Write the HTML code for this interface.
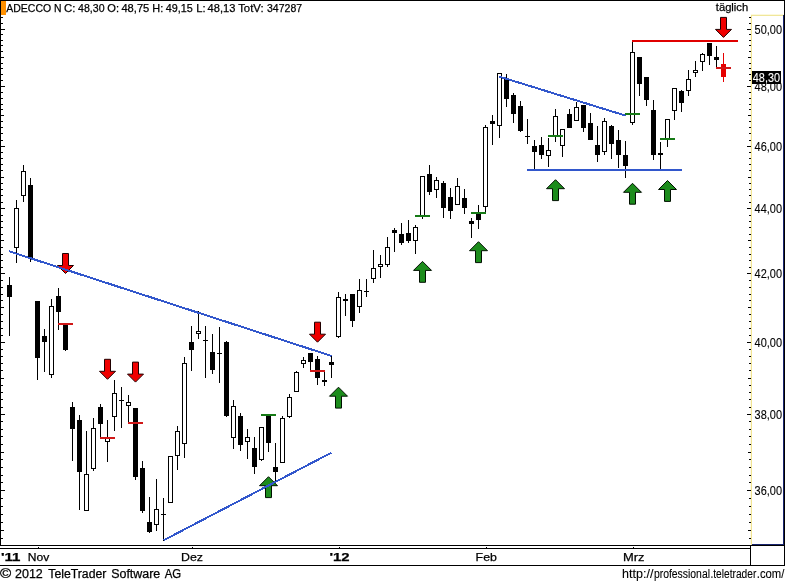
<!DOCTYPE html>
<html><head><meta charset="utf-8"><title>ADECCO N</title>
<style>
html,body{margin:0;padding:0;background:#fff;}
body{width:785px;height:583px;overflow:hidden;position:relative;font-family:"Liberation Sans",sans-serif;}
svg{position:absolute;left:0;top:0;display:block}
svg text{font-family:"Liberation Sans",sans-serif;stroke:#000;stroke-width:0.25px;}
svg text.w{stroke:#fff;stroke-width:0.1px}
svg text.pl{stroke-width:0.1px}
</style></head><body>
<svg width="785" height="583" viewBox="0 0 785 583">
<rect width="785" height="583" fill="#fff"/>

<g shape-rendering="crispEdges">
<rect x="0" y="0" width="785" height="1" fill="#000"/>
<rect x="784" y="0" width="1" height="566" fill="#000"/>
<rect x="0" y="0" width="1" height="546" fill="#000"/>
<rect x="1" y="1" width="5" height="14" fill="#ff9000"/>
<rect x="751" y="14" width="33" height="1" fill="#fcf9dc"/>
<rect x="751" y="15" width="33" height="1" fill="#f0e69a"/>
<rect x="750" y="16" width="1" height="528" fill="#fdf9e6"/>
<rect x="751" y="15" width="1" height="530" fill="#f1e493"/>
<rect x="783" y="15" width="1" height="530" fill="#18246e"/>
<rect x="752" y="544" width="32" height="1" fill="#18246e"/>
<rect x="0" y="545" width="785" height="1" fill="#000"/>
<rect x="0" y="548" width="750" height="1" fill="#000"/>
<rect x="750" y="545" width="1" height="21" fill="#000"/>
<rect x="0" y="565" width="785" height="1" fill="#000"/>
<rect x="0" y="538" width="3" height="1" fill="#000"/>
<rect x="749" y="538" width="2" height="1" fill="#000"/>
<rect x="0" y="530" width="4" height="1" fill="#000"/>
<rect x="748" y="530" width="3" height="1" fill="#000"/>
<rect x="0" y="522" width="3" height="1" fill="#000"/>
<rect x="749" y="522" width="2" height="1" fill="#000"/>
<rect x="0" y="514" width="3" height="1" fill="#000"/>
<rect x="749" y="514" width="2" height="1" fill="#000"/>
<rect x="0" y="506" width="3" height="1" fill="#000"/>
<rect x="749" y="506" width="2" height="1" fill="#000"/>
<rect x="0" y="498" width="3" height="1" fill="#000"/>
<rect x="749" y="498" width="2" height="1" fill="#000"/>
<rect x="0" y="490" width="5" height="1" fill="#000"/>
<rect x="747" y="490" width="4" height="1" fill="#000"/>
<rect x="0" y="482" width="3" height="1" fill="#000"/>
<rect x="749" y="482" width="2" height="1" fill="#000"/>
<rect x="0" y="475" width="3" height="1" fill="#000"/>
<rect x="749" y="475" width="2" height="1" fill="#000"/>
<rect x="0" y="467" width="3" height="1" fill="#000"/>
<rect x="749" y="467" width="2" height="1" fill="#000"/>
<rect x="0" y="459" width="3" height="1" fill="#000"/>
<rect x="749" y="459" width="2" height="1" fill="#000"/>
<rect x="0" y="452" width="4" height="1" fill="#000"/>
<rect x="748" y="452" width="3" height="1" fill="#000"/>
<rect x="0" y="444" width="3" height="1" fill="#000"/>
<rect x="749" y="444" width="2" height="1" fill="#000"/>
<rect x="0" y="436" width="3" height="1" fill="#000"/>
<rect x="749" y="436" width="2" height="1" fill="#000"/>
<rect x="0" y="429" width="3" height="1" fill="#000"/>
<rect x="749" y="429" width="2" height="1" fill="#000"/>
<rect x="0" y="421" width="3" height="1" fill="#000"/>
<rect x="749" y="421" width="2" height="1" fill="#000"/>
<rect x="0" y="414" width="5" height="1" fill="#000"/>
<rect x="747" y="414" width="4" height="1" fill="#000"/>
<rect x="0" y="407" width="3" height="1" fill="#000"/>
<rect x="749" y="407" width="2" height="1" fill="#000"/>
<rect x="0" y="399" width="3" height="1" fill="#000"/>
<rect x="749" y="399" width="2" height="1" fill="#000"/>
<rect x="0" y="392" width="3" height="1" fill="#000"/>
<rect x="749" y="392" width="2" height="1" fill="#000"/>
<rect x="0" y="385" width="3" height="1" fill="#000"/>
<rect x="749" y="385" width="2" height="1" fill="#000"/>
<rect x="0" y="378" width="4" height="1" fill="#000"/>
<rect x="748" y="378" width="3" height="1" fill="#000"/>
<rect x="0" y="370" width="3" height="1" fill="#000"/>
<rect x="749" y="370" width="2" height="1" fill="#000"/>
<rect x="0" y="363" width="3" height="1" fill="#000"/>
<rect x="749" y="363" width="2" height="1" fill="#000"/>
<rect x="0" y="356" width="3" height="1" fill="#000"/>
<rect x="749" y="356" width="2" height="1" fill="#000"/>
<rect x="0" y="349" width="3" height="1" fill="#000"/>
<rect x="749" y="349" width="2" height="1" fill="#000"/>
<rect x="0" y="342" width="5" height="1" fill="#000"/>
<rect x="747" y="342" width="4" height="1" fill="#000"/>
<rect x="0" y="335" width="3" height="1" fill="#000"/>
<rect x="749" y="335" width="2" height="1" fill="#000"/>
<rect x="0" y="328" width="3" height="1" fill="#000"/>
<rect x="749" y="328" width="2" height="1" fill="#000"/>
<rect x="0" y="321" width="3" height="1" fill="#000"/>
<rect x="749" y="321" width="2" height="1" fill="#000"/>
<rect x="0" y="314" width="3" height="1" fill="#000"/>
<rect x="749" y="314" width="2" height="1" fill="#000"/>
<rect x="0" y="307" width="4" height="1" fill="#000"/>
<rect x="748" y="307" width="3" height="1" fill="#000"/>
<rect x="0" y="300" width="3" height="1" fill="#000"/>
<rect x="749" y="300" width="2" height="1" fill="#000"/>
<rect x="0" y="294" width="3" height="1" fill="#000"/>
<rect x="749" y="294" width="2" height="1" fill="#000"/>
<rect x="0" y="287" width="3" height="1" fill="#000"/>
<rect x="749" y="287" width="2" height="1" fill="#000"/>
<rect x="0" y="280" width="3" height="1" fill="#000"/>
<rect x="749" y="280" width="2" height="1" fill="#000"/>
<rect x="0" y="273" width="5" height="1" fill="#000"/>
<rect x="747" y="273" width="4" height="1" fill="#000"/>
<rect x="0" y="267" width="3" height="1" fill="#000"/>
<rect x="749" y="267" width="2" height="1" fill="#000"/>
<rect x="0" y="260" width="3" height="1" fill="#000"/>
<rect x="749" y="260" width="2" height="1" fill="#000"/>
<rect x="0" y="254" width="3" height="1" fill="#000"/>
<rect x="749" y="254" width="2" height="1" fill="#000"/>
<rect x="0" y="247" width="3" height="1" fill="#000"/>
<rect x="749" y="247" width="2" height="1" fill="#000"/>
<rect x="0" y="240" width="4" height="1" fill="#000"/>
<rect x="748" y="240" width="3" height="1" fill="#000"/>
<rect x="0" y="234" width="3" height="1" fill="#000"/>
<rect x="749" y="234" width="2" height="1" fill="#000"/>
<rect x="0" y="227" width="3" height="1" fill="#000"/>
<rect x="749" y="227" width="2" height="1" fill="#000"/>
<rect x="0" y="221" width="3" height="1" fill="#000"/>
<rect x="749" y="221" width="2" height="1" fill="#000"/>
<rect x="0" y="215" width="3" height="1" fill="#000"/>
<rect x="749" y="215" width="2" height="1" fill="#000"/>
<rect x="0" y="208" width="5" height="1" fill="#000"/>
<rect x="747" y="208" width="4" height="1" fill="#000"/>
<rect x="0" y="202" width="3" height="1" fill="#000"/>
<rect x="749" y="202" width="2" height="1" fill="#000"/>
<rect x="0" y="195" width="3" height="1" fill="#000"/>
<rect x="749" y="195" width="2" height="1" fill="#000"/>
<rect x="0" y="189" width="3" height="1" fill="#000"/>
<rect x="749" y="189" width="2" height="1" fill="#000"/>
<rect x="0" y="183" width="3" height="1" fill="#000"/>
<rect x="749" y="183" width="2" height="1" fill="#000"/>
<rect x="0" y="177" width="4" height="1" fill="#000"/>
<rect x="748" y="177" width="3" height="1" fill="#000"/>
<rect x="0" y="170" width="3" height="1" fill="#000"/>
<rect x="749" y="170" width="2" height="1" fill="#000"/>
<rect x="0" y="164" width="3" height="1" fill="#000"/>
<rect x="749" y="164" width="2" height="1" fill="#000"/>
<rect x="0" y="158" width="3" height="1" fill="#000"/>
<rect x="749" y="158" width="2" height="1" fill="#000"/>
<rect x="0" y="152" width="3" height="1" fill="#000"/>
<rect x="749" y="152" width="2" height="1" fill="#000"/>
<rect x="0" y="146" width="5" height="1" fill="#000"/>
<rect x="747" y="146" width="4" height="1" fill="#000"/>
<rect x="0" y="140" width="3" height="1" fill="#000"/>
<rect x="749" y="140" width="2" height="1" fill="#000"/>
<rect x="0" y="133" width="3" height="1" fill="#000"/>
<rect x="749" y="133" width="2" height="1" fill="#000"/>
<rect x="0" y="127" width="3" height="1" fill="#000"/>
<rect x="749" y="127" width="2" height="1" fill="#000"/>
<rect x="0" y="121" width="3" height="1" fill="#000"/>
<rect x="749" y="121" width="2" height="1" fill="#000"/>
<rect x="0" y="115" width="4" height="1" fill="#000"/>
<rect x="748" y="115" width="3" height="1" fill="#000"/>
<rect x="0" y="109" width="3" height="1" fill="#000"/>
<rect x="749" y="109" width="2" height="1" fill="#000"/>
<rect x="0" y="104" width="3" height="1" fill="#000"/>
<rect x="749" y="104" width="2" height="1" fill="#000"/>
<rect x="0" y="98" width="3" height="1" fill="#000"/>
<rect x="749" y="98" width="2" height="1" fill="#000"/>
<rect x="0" y="92" width="3" height="1" fill="#000"/>
<rect x="749" y="92" width="2" height="1" fill="#000"/>
<rect x="0" y="86" width="5" height="1" fill="#000"/>
<rect x="747" y="86" width="4" height="1" fill="#000"/>
<rect x="0" y="80" width="3" height="1" fill="#000"/>
<rect x="749" y="80" width="2" height="1" fill="#000"/>
<rect x="0" y="74" width="3" height="1" fill="#000"/>
<rect x="749" y="74" width="2" height="1" fill="#000"/>
<rect x="0" y="68" width="3" height="1" fill="#000"/>
<rect x="749" y="68" width="2" height="1" fill="#000"/>
<rect x="0" y="63" width="3" height="1" fill="#000"/>
<rect x="749" y="63" width="2" height="1" fill="#000"/>
<rect x="0" y="57" width="4" height="1" fill="#000"/>
<rect x="748" y="57" width="3" height="1" fill="#000"/>
<rect x="0" y="51" width="3" height="1" fill="#000"/>
<rect x="749" y="51" width="2" height="1" fill="#000"/>
<rect x="0" y="45" width="3" height="1" fill="#000"/>
<rect x="749" y="45" width="2" height="1" fill="#000"/>
<rect x="0" y="40" width="3" height="1" fill="#000"/>
<rect x="749" y="40" width="2" height="1" fill="#000"/>
<rect x="0" y="34" width="3" height="1" fill="#000"/>
<rect x="749" y="34" width="2" height="1" fill="#000"/>
<rect x="0" y="29" width="5" height="1" fill="#000"/>
<rect x="747" y="29" width="4" height="1" fill="#000"/>
<rect x="0" y="23" width="3" height="1" fill="#000"/>
<rect x="749" y="23" width="2" height="1" fill="#000"/>
<rect x="0" y="17" width="3" height="1" fill="#000"/>
<rect x="749" y="17" width="2" height="1" fill="#000"/>
<rect x="38" y="547" width="1" height="1" fill="#000"/>
<rect x="192" y="547" width="1" height="1" fill="#000"/>
<rect x="339" y="547" width="1" height="1" fill="#000"/>
<rect x="486" y="547" width="1" height="1" fill="#000"/>
<rect x="633" y="547" width="1" height="1" fill="#000"/>
</g>
<polygon points="62.5,253.5 68.5,253.5 68.5,265.5 73.5,265.5 65.5,273.5 57.5,265.5 62.5,265.5" fill="#f00000" stroke="#200000" stroke-width="1" stroke-linejoin="miter"/>
<polygon points="104.5,359.3 110.5,359.3 110.5,371.3 115.5,371.3 107.5,379.3 99.5,371.3 104.5,371.3" fill="#f00000" stroke="#200000" stroke-width="1" stroke-linejoin="miter"/>
<polygon points="132.5,362.1 138.5,362.1 138.5,374.1 143.5,374.1 135.5,382.1 127.5,374.1 132.5,374.1" fill="#f00000" stroke="#200000" stroke-width="1" stroke-linejoin="miter"/>
<polygon points="314.5,322.2 320.5,322.2 320.5,334.2 325.5,334.2 317.5,342.2 309.5,334.2 314.5,334.2" fill="#f00000" stroke="#200000" stroke-width="1" stroke-linejoin="miter"/>
<polygon points="720.5,17.4 726.5,17.4 726.5,29.4 731.5,29.4 723.5,37.4 715.5,29.4 720.5,29.4" fill="#f00000" stroke="#200000" stroke-width="1" stroke-linejoin="miter"/>
<polygon points="268.5,476.7 277.5,485.7 271.5,485.7 271.5,497.6 265.5,497.6 265.5,485.7 259.5,485.7" fill="#1c8c1c" stroke="#001000" stroke-width="1" stroke-linejoin="miter"/>
<polygon points="338.5,387.2 347.5,396.2 341.5,396.2 341.5,408.1 335.5,408.1 335.5,396.2 329.5,396.2" fill="#1c8c1c" stroke="#001000" stroke-width="1" stroke-linejoin="miter"/>
<polygon points="422.5,261.4 431.5,270.4 425.5,270.4 425.5,282.3 419.5,282.3 419.5,270.4 413.5,270.4" fill="#1c8c1c" stroke="#001000" stroke-width="1" stroke-linejoin="miter"/>
<polygon points="478.5,241.7 487.5,250.7 481.5,250.7 481.5,262.6 475.5,262.6 475.5,250.7 469.5,250.7" fill="#1c8c1c" stroke="#001000" stroke-width="1" stroke-linejoin="miter"/>
<polygon points="555.5,179.7 564.5,188.7 558.5,188.7 558.5,200.6 552.5,200.6 552.5,188.7 546.5,188.7" fill="#1c8c1c" stroke="#001000" stroke-width="1" stroke-linejoin="miter"/>
<polygon points="632.5,183.3 641.5,192.3 635.5,192.3 635.5,204.2 629.5,204.2 629.5,192.3 623.5,192.3" fill="#1c8c1c" stroke="#001000" stroke-width="1" stroke-linejoin="miter"/>
<polygon points="667.5,180.5 676.5,189.5 670.5,189.5 670.5,201.4 664.5,201.4 664.5,189.5 658.5,189.5" fill="#1c8c1c" stroke="#001000" stroke-width="1" stroke-linejoin="miter"/>
<g shape-rendering="crispEdges">
<rect x="9" y="277" width="1" height="59" fill="#000"/>
<rect x="7" y="285" width="5" height="12" fill="#000"/>
<rect x="16" y="200" width="1" height="63" fill="#000"/>
<rect x="14.5" y="208.5" width="4" height="39" fill="#fff" stroke="#000" stroke-width="1"/>
<rect x="23" y="165" width="1" height="37" fill="#000"/>
<rect x="21.5" y="171.5" width="4" height="24" fill="#fff" stroke="#000" stroke-width="1"/>
<rect x="30" y="178" width="1" height="84" fill="#000"/>
<rect x="28" y="185" width="5" height="73" fill="#000"/>
<rect x="37" y="301" width="1" height="79" fill="#000"/>
<rect x="35" y="301" width="5" height="57" fill="#000"/>
<rect x="44" y="329" width="1" height="43" fill="#000"/>
<rect x="42" y="336" width="5" height="6" fill="#000"/>
<rect x="51" y="299" width="1" height="79" fill="#000"/>
<rect x="49.5" y="306.5" width="4" height="68" fill="#fff" stroke="#000" stroke-width="1"/>
<rect x="58" y="288" width="1" height="42" fill="#000"/>
<rect x="56" y="296" width="5" height="16" fill="#000"/>
<rect x="65" y="325" width="1" height="26" fill="#000"/>
<rect x="63" y="325" width="5" height="25" fill="#000"/>
<rect x="72" y="402" width="1" height="59" fill="#000"/>
<rect x="70" y="407" width="5" height="22" fill="#000"/>
<rect x="79" y="415" width="1" height="95" fill="#000"/>
<rect x="77" y="420" width="5" height="52" fill="#000"/>
<rect x="86" y="431" width="1" height="80" fill="#000"/>
<rect x="84.5" y="474.5" width="4" height="36" fill="#fff" stroke="#000" stroke-width="1"/>
<rect x="93" y="418" width="1" height="53" fill="#000"/>
<rect x="91.5" y="428.5" width="4" height="40" fill="#fff" stroke="#000" stroke-width="1"/>
<rect x="100" y="404" width="1" height="34" fill="#000"/>
<rect x="98" y="407" width="5" height="17" fill="#000"/>
<rect x="107" y="420" width="1" height="42" fill="#000"/>
<rect x="105.5" y="438.5" width="4" height="3" fill="#fff" stroke="#000" stroke-width="1"/>
<rect x="114" y="380" width="1" height="51" fill="#000"/>
<rect x="112.5" y="393.5" width="4" height="23" fill="#fff" stroke="#000" stroke-width="1"/>
<rect x="121" y="387" width="1" height="41" fill="#000"/>
<rect x="119" y="400" width="5" height="1" fill="#000"/>
<rect x="128" y="395" width="1" height="28" fill="#000"/>
<rect x="126.5" y="402.5" width="4" height="3" fill="#fff" stroke="#000" stroke-width="1"/>
<rect x="135" y="408" width="1" height="72" fill="#000"/>
<rect x="133" y="408" width="5" height="69" fill="#000"/>
<rect x="142" y="461" width="1" height="52" fill="#000"/>
<rect x="140" y="468" width="5" height="43" fill="#000"/>
<rect x="149" y="497" width="1" height="36" fill="#000"/>
<rect x="147" y="522" width="5" height="10" fill="#000"/>
<rect x="156" y="479" width="1" height="52" fill="#000"/>
<rect x="154.5" y="509.5" width="4" height="15" fill="#fff" stroke="#000" stroke-width="1"/>
<rect x="163" y="498" width="1" height="43" fill="#000"/>
<rect x="161" y="514" width="5" height="1" fill="#000"/>
<rect x="170" y="456" width="1" height="47" fill="#000"/>
<rect x="168.5" y="456.5" width="4" height="46" fill="#fff" stroke="#000" stroke-width="1"/>
<rect x="177" y="426" width="1" height="44" fill="#000"/>
<rect x="175.5" y="431.5" width="4" height="24" fill="#fff" stroke="#000" stroke-width="1"/>
<rect x="184" y="357" width="1" height="101" fill="#000"/>
<rect x="182.5" y="363.5" width="4" height="80" fill="#fff" stroke="#000" stroke-width="1"/>
<rect x="191" y="326" width="1" height="45" fill="#000"/>
<rect x="189" y="342" width="5" height="8" fill="#000"/>
<rect x="198" y="311" width="1" height="28" fill="#000"/>
<rect x="196.5" y="331.5" width="4" height="2" fill="#fff" stroke="#000" stroke-width="1"/>
<rect x="205" y="326" width="1" height="52" fill="#000"/>
<rect x="203" y="340" width="5" height="1" fill="#000"/>
<rect x="212" y="334" width="1" height="40" fill="#000"/>
<rect x="210" y="352" width="5" height="18" fill="#000"/>
<rect x="219" y="327" width="1" height="56" fill="#000"/>
<rect x="217" y="353" width="5" height="1" fill="#000"/>
<rect x="226" y="341" width="1" height="76" fill="#000"/>
<rect x="224" y="342" width="5" height="74" fill="#000"/>
<rect x="233" y="400" width="1" height="49" fill="#000"/>
<rect x="231.5" y="406.5" width="4" height="31" fill="#fff" stroke="#000" stroke-width="1"/>
<rect x="240" y="413" width="1" height="38" fill="#000"/>
<rect x="238" y="416" width="5" height="29" fill="#000"/>
<rect x="247" y="429" width="1" height="30" fill="#000"/>
<rect x="245.5" y="437.5" width="4" height="4" fill="#fff" stroke="#000" stroke-width="1"/>
<rect x="254" y="437" width="1" height="37" fill="#000"/>
<rect x="252" y="448" width="5" height="19" fill="#000"/>
<rect x="261" y="427" width="1" height="34" fill="#000"/>
<rect x="259.5" y="427.5" width="4" height="32" fill="#fff" stroke="#000" stroke-width="1"/>
<rect x="268" y="414" width="1" height="38" fill="#000"/>
<rect x="266" y="416" width="5" height="27" fill="#000"/>
<rect x="275" y="443" width="1" height="39" fill="#000"/>
<rect x="273" y="467" width="5" height="5" fill="#000"/>
<rect x="282" y="416" width="1" height="47" fill="#000"/>
<rect x="280.5" y="418.5" width="4" height="44" fill="#fff" stroke="#000" stroke-width="1"/>
<rect x="289" y="394" width="1" height="24" fill="#000"/>
<rect x="287.5" y="397.5" width="4" height="19" fill="#fff" stroke="#000" stroke-width="1"/>
<rect x="296" y="371" width="1" height="21" fill="#000"/>
<rect x="294.5" y="372.5" width="4" height="19" fill="#fff" stroke="#000" stroke-width="1"/>
<rect x="303" y="357" width="1" height="11" fill="#000"/>
<rect x="301.5" y="360.5" width="4" height="3" fill="#fff" stroke="#000" stroke-width="1"/>
<rect x="310" y="353" width="1" height="18" fill="#000"/>
<rect x="308" y="353" width="5" height="9" fill="#000"/>
<rect x="317" y="356" width="1" height="29" fill="#000"/>
<rect x="315" y="359" width="5" height="19" fill="#000"/>
<rect x="324" y="371" width="1" height="15" fill="#000"/>
<rect x="322" y="380" width="5" height="2" fill="#000"/>
<rect x="331" y="356" width="1" height="22" fill="#000"/>
<rect x="329" y="362" width="5" height="3" fill="#000"/>
<rect x="338" y="292" width="1" height="46" fill="#000"/>
<rect x="336.5" y="297.5" width="4" height="39" fill="#fff" stroke="#000" stroke-width="1"/>
<rect x="345" y="294" width="1" height="22" fill="#000"/>
<rect x="343" y="299" width="5" height="2" fill="#000"/>
<rect x="352" y="294" width="1" height="33" fill="#000"/>
<rect x="350" y="294" width="5" height="27" fill="#000"/>
<rect x="359" y="279" width="1" height="34" fill="#000"/>
<rect x="357.5" y="290.5" width="4" height="16" fill="#fff" stroke="#000" stroke-width="1"/>
<rect x="366" y="279" width="1" height="18" fill="#000"/>
<rect x="364" y="291" width="5" height="1" fill="#000"/>
<rect x="373" y="250" width="1" height="33" fill="#000"/>
<rect x="371.5" y="268.5" width="4" height="10" fill="#fff" stroke="#000" stroke-width="1"/>
<rect x="380" y="255" width="1" height="23" fill="#000"/>
<rect x="378.5" y="264.5" width="4" height="2" fill="#fff" stroke="#000" stroke-width="1"/>
<rect x="387" y="237" width="1" height="30" fill="#000"/>
<rect x="385.5" y="247.5" width="4" height="17" fill="#fff" stroke="#000" stroke-width="1"/>
<rect x="394" y="228" width="1" height="24" fill="#000"/>
<rect x="392" y="230" width="5" height="3" fill="#000"/>
<rect x="401" y="223" width="1" height="22" fill="#000"/>
<rect x="399" y="234" width="5" height="9" fill="#000"/>
<rect x="408" y="220" width="1" height="23" fill="#000"/>
<rect x="406" y="233" width="5" height="8" fill="#000"/>
<rect x="415" y="225" width="1" height="29" fill="#000"/>
<rect x="413.5" y="227.5" width="4" height="13" fill="#fff" stroke="#000" stroke-width="1"/>
<rect x="422" y="176" width="1" height="43" fill="#000"/>
<rect x="420.5" y="176.5" width="4" height="40" fill="#fff" stroke="#000" stroke-width="1"/>
<rect x="429" y="165" width="1" height="30" fill="#000"/>
<rect x="427" y="174" width="5" height="18" fill="#000"/>
<rect x="436" y="177" width="1" height="21" fill="#000"/>
<rect x="434.5" y="180.5" width="4" height="9" fill="#fff" stroke="#000" stroke-width="1"/>
<rect x="443" y="181" width="1" height="37" fill="#000"/>
<rect x="441" y="183" width="5" height="25" fill="#000"/>
<rect x="450" y="188" width="1" height="31" fill="#000"/>
<rect x="448" y="197" width="5" height="14" fill="#000"/>
<rect x="457" y="178" width="1" height="27" fill="#000"/>
<rect x="455.5" y="186.5" width="4" height="18" fill="#fff" stroke="#000" stroke-width="1"/>
<rect x="464" y="189" width="1" height="25" fill="#000"/>
<rect x="462" y="198" width="5" height="10" fill="#000"/>
<rect x="471" y="218" width="1" height="20" fill="#000"/>
<rect x="469" y="221" width="5" height="3" fill="#000"/>
<rect x="478" y="205" width="1" height="24" fill="#000"/>
<rect x="476" y="213" width="5" height="7" fill="#000"/>
<rect x="485" y="125" width="1" height="87" fill="#000"/>
<rect x="483.5" y="127.5" width="4" height="79" fill="#fff" stroke="#000" stroke-width="1"/>
<rect x="492" y="115" width="1" height="30" fill="#000"/>
<rect x="490" y="121" width="5" height="3" fill="#000"/>
<rect x="499" y="73" width="1" height="65" fill="#000"/>
<rect x="497.5" y="73.5" width="4" height="52" fill="#fff" stroke="#000" stroke-width="1"/>
<rect x="506" y="74" width="1" height="33" fill="#000"/>
<rect x="504" y="79" width="5" height="20" fill="#000"/>
<rect x="513" y="93" width="1" height="30" fill="#000"/>
<rect x="511" y="95" width="5" height="19" fill="#000"/>
<rect x="520" y="101" width="1" height="31" fill="#000"/>
<rect x="518" y="106" width="5" height="25" fill="#000"/>
<rect x="527" y="119" width="1" height="25" fill="#000"/>
<rect x="525" y="136" width="5" height="1" fill="#000"/>
<rect x="534" y="140" width="1" height="29" fill="#000"/>
<rect x="532" y="146" width="5" height="6" fill="#000"/>
<rect x="541" y="137" width="1" height="22" fill="#000"/>
<rect x="539" y="145" width="5" height="10" fill="#000"/>
<rect x="548" y="138" width="1" height="29" fill="#000"/>
<rect x="546.5" y="150.5" width="4" height="5" fill="#fff" stroke="#000" stroke-width="1"/>
<rect x="555" y="109" width="1" height="33" fill="#000"/>
<rect x="553.5" y="116.5" width="4" height="20" fill="#fff" stroke="#000" stroke-width="1"/>
<rect x="562" y="129" width="1" height="28" fill="#000"/>
<rect x="560.5" y="129.5" width="4" height="16" fill="#fff" stroke="#000" stroke-width="1"/>
<rect x="569" y="109" width="1" height="19" fill="#000"/>
<rect x="567" y="114" width="5" height="14" fill="#000"/>
<rect x="576" y="102" width="1" height="19" fill="#000"/>
<rect x="574.5" y="107.5" width="4" height="13" fill="#fff" stroke="#000" stroke-width="1"/>
<rect x="583" y="105" width="1" height="27" fill="#000"/>
<rect x="581" y="105" width="5" height="23" fill="#000"/>
<rect x="590" y="113" width="1" height="27" fill="#000"/>
<rect x="588" y="123" width="5" height="17" fill="#000"/>
<rect x="597" y="126" width="1" height="36" fill="#000"/>
<rect x="595" y="145" width="5" height="10" fill="#000"/>
<rect x="604" y="118" width="1" height="37" fill="#000"/>
<rect x="602.5" y="121.5" width="4" height="30" fill="#fff" stroke="#000" stroke-width="1"/>
<rect x="611" y="125" width="1" height="34" fill="#000"/>
<rect x="609" y="126" width="5" height="18" fill="#000"/>
<rect x="618" y="130" width="1" height="38" fill="#000"/>
<rect x="616" y="140" width="5" height="15" fill="#000"/>
<rect x="625" y="141" width="1" height="37" fill="#000"/>
<rect x="623" y="155" width="5" height="11" fill="#000"/>
<rect x="632" y="41" width="1" height="84" fill="#000"/>
<rect x="630.5" y="52.5" width="4" height="70" fill="#fff" stroke="#000" stroke-width="1"/>
<rect x="639" y="57" width="1" height="39" fill="#000"/>
<rect x="637" y="57" width="5" height="27" fill="#000"/>
<rect x="646" y="77" width="1" height="29" fill="#000"/>
<rect x="644" y="77" width="5" height="23" fill="#000"/>
<rect x="653" y="100" width="1" height="60" fill="#000"/>
<rect x="651" y="110" width="5" height="45" fill="#000"/>
<rect x="660" y="142" width="1" height="28" fill="#000"/>
<rect x="658" y="153" width="5" height="2" fill="#000"/>
<rect x="667" y="119" width="1" height="28" fill="#000"/>
<rect x="665.5" y="119.5" width="4" height="19" fill="#fff" stroke="#000" stroke-width="1"/>
<rect x="674" y="88" width="1" height="32" fill="#000"/>
<rect x="672.5" y="88.5" width="4" height="22" fill="#fff" stroke="#000" stroke-width="1"/>
<rect x="681" y="90" width="1" height="22" fill="#000"/>
<rect x="679" y="91" width="5" height="12" fill="#000"/>
<rect x="688" y="70" width="1" height="26" fill="#000"/>
<rect x="686.5" y="79.5" width="4" height="11" fill="#fff" stroke="#000" stroke-width="1"/>
<rect x="695" y="61" width="1" height="16" fill="#000"/>
<rect x="693.5" y="70.5" width="4" height="2" fill="#fff" stroke="#000" stroke-width="1"/>
<rect x="702" y="53" width="1" height="18" fill="#000"/>
<rect x="700.5" y="54.5" width="4" height="7" fill="#fff" stroke="#000" stroke-width="1"/>
<rect x="709" y="43" width="1" height="22" fill="#000"/>
<rect x="707" y="43" width="5" height="13" fill="#000"/>
<rect x="716" y="46" width="1" height="22" fill="#000"/>
<rect x="714" y="57" width="5" height="3" fill="#000"/>
<rect x="723" y="53" width="1" height="29" fill="#e60000"/>
<rect x="721" y="64" width="5" height="13" fill="#e60000"/>
<rect x="58" y="323" width="15" height="2" fill="#d01818"/>
<rect x="100" y="437" width="15" height="2" fill="#d01818"/>
<rect x="128" y="422" width="15" height="2" fill="#d01818"/>
<rect x="261" y="414" width="15" height="2" fill="#167a16"/>
<rect x="310" y="370" width="15" height="2" fill="#d01818"/>
<rect x="415" y="215" width="15" height="2" fill="#167a16"/>
<rect x="471" y="212" width="15" height="2" fill="#167a16"/>
<rect x="548" y="135" width="15" height="2" fill="#167a16"/>
<rect x="625" y="113" width="15" height="2" fill="#167a16"/>
<rect x="660" y="138" width="15" height="2" fill="#167a16"/>
<rect x="716" y="67" width="15" height="2" fill="#d01818"/>
</g>
<line x1="9.2" y1="251.3" x2="331.6" y2="356.0" stroke="#3257cc" stroke-width="2" shape-rendering="crispEdges"/>
<line x1="163.6" y1="540.3" x2="331.5" y2="452.6" stroke="#3257cc" stroke-width="2" shape-rendering="crispEdges"/>
<line x1="499.4" y1="76.6" x2="625.5" y2="115.6" stroke="#3257cc" stroke-width="2" shape-rendering="crispEdges"/>
<g shape-rendering="crispEdges">
<rect x="527" y="169" width="155" height="2" fill="#3257cc"/>
<rect x="632" y="40" width="106" height="2" fill="#e00000"/>
</g>
<text class="pl" x="754.6" y="33.6" font-size="12" fill="#000" textLength="27.4" lengthAdjust="spacingAndGlyphs">50,00</text>
<text class="pl" x="754.6" y="90.6" font-size="12" fill="#000" textLength="27.4" lengthAdjust="spacingAndGlyphs">48,00</text>
<text class="pl" x="754.6" y="150.6" font-size="12" fill="#000" textLength="27.4" lengthAdjust="spacingAndGlyphs">46,00</text>
<text class="pl" x="754.6" y="212.6" font-size="12" fill="#000" textLength="27.4" lengthAdjust="spacingAndGlyphs">44,00</text>
<text class="pl" x="754.6" y="277.6" font-size="12" fill="#000" textLength="27.4" lengthAdjust="spacingAndGlyphs">42,00</text>
<text class="pl" x="754.6" y="346.6" font-size="12" fill="#000" textLength="27.4" lengthAdjust="spacingAndGlyphs">40,00</text>
<text class="pl" x="754.6" y="418.6" font-size="12" fill="#000" textLength="27.4" lengthAdjust="spacingAndGlyphs">38,00</text>
<text class="pl" x="754.6" y="494.6" font-size="12" fill="#000" textLength="27.4" lengthAdjust="spacingAndGlyphs">36,00</text>
<rect x="752" y="71" width="29" height="13" fill="#000" shape-rendering="crispEdges"/>
<text x="752.8" y="81.7" class="w" font-size="12" fill="#fff" textLength="27.2" lengthAdjust="spacingAndGlyphs">48,30</text>
<text x="6.3" y="11.9" font-size="11.2" fill="#000" textLength="44.8" lengthAdjust="spacingAndGlyphs">ADECCO</text>
<text x="54.1" y="11.9" font-size="11.2" fill="#000" textLength="7.5" lengthAdjust="spacingAndGlyphs">N</text>
<text x="64.1" y="11.9" font-size="11.2" fill="#000" textLength="11.4" lengthAdjust="spacingAndGlyphs">C:</text>
<text x="78.1" y="11.9" font-size="11.2" fill="#000" textLength="26.5" lengthAdjust="spacingAndGlyphs">48,30</text>
<text x="107.3" y="11.9" font-size="11.2" fill="#000" textLength="11.7" lengthAdjust="spacingAndGlyphs">O:</text>
<text x="121.4" y="11.9" font-size="11.2" fill="#000" textLength="27.9" lengthAdjust="spacingAndGlyphs">48,75</text>
<text x="152.3" y="11.9" font-size="11.2" fill="#000" textLength="10.9" lengthAdjust="spacingAndGlyphs">H:</text>
<text x="165.8" y="11.9" font-size="11.2" fill="#000" textLength="27.1" lengthAdjust="spacingAndGlyphs">49,15</text>
<text x="196.2" y="11.9" font-size="11.2" fill="#000" textLength="9.3" lengthAdjust="spacingAndGlyphs">L:</text>
<text x="207.6" y="11.9" font-size="11.2" fill="#000" textLength="27.8" lengthAdjust="spacingAndGlyphs">48,13</text>
<text x="238.2" y="11.9" font-size="11.2" fill="#000" textLength="25.4" lengthAdjust="spacingAndGlyphs">TotV:</text>
<text x="267.0" y="11.9" font-size="11.2" fill="#000" textLength="35.1" lengthAdjust="spacingAndGlyphs">347287</text>
<text x="715.8" y="11.4" font-size="11.2" fill="#000">täglich</text>
<text x="1.0" y="560.6" font-size="11.6" font-weight="bold" fill="#000" textLength="19.5" lengthAdjust="spacingAndGlyphs">'11</text>
<text x="27.8" y="560.6" font-size="11.6" fill="#000" textLength="21.5" lengthAdjust="spacingAndGlyphs">Nov</text>
<text x="181.0" y="560.6" font-size="11.6" fill="#000" textLength="22.0" lengthAdjust="spacingAndGlyphs">Dez</text>
<text x="329.4" y="560.6" font-size="11.6" font-weight="bold" fill="#000" textLength="20.1" lengthAdjust="spacingAndGlyphs">'12</text>
<text x="475.6" y="560.6" font-size="11.6" fill="#000" textLength="21.3" lengthAdjust="spacingAndGlyphs">Feb</text>
<text x="622.9" y="560.6" font-size="11.6" fill="#000" textLength="21.5" lengthAdjust="spacingAndGlyphs">Mrz</text>
<text x="0.1" y="577.7" font-size="12" fill="#000" textLength="11.2" lengthAdjust="spacingAndGlyphs">©</text>
<text x="15.0" y="577.7" font-size="12" fill="#000" textLength="27.8" lengthAdjust="spacingAndGlyphs">2012</text>
<text x="48.3" y="577.7" font-size="12" fill="#000" textLength="58.1" lengthAdjust="spacingAndGlyphs">TeleTrader</text>
<text x="111.2" y="577.7" font-size="12" fill="#000" textLength="49.1" lengthAdjust="spacingAndGlyphs">Software</text>
<text x="164.7" y="577.7" font-size="12" fill="#000" textLength="16.5" lengthAdjust="spacingAndGlyphs">AG</text>
<text x="622.1" y="577.7" font-size="12" class="pl" fill="#000" textLength="31.3" lengthAdjust="spacingAndGlyphs">http://</text>
<text x="653.9" y="577.7" font-size="12" class="pl" fill="#000" textLength="56.1" lengthAdjust="spacingAndGlyphs">professional</text>
<text x="710.4" y="577.7" font-size="12" class="pl" fill="#000" textLength="45.9" lengthAdjust="spacingAndGlyphs">.teletrader</text>
<text x="756.8" y="577.7" font-size="12" class="pl" fill="#000" textLength="27.6" lengthAdjust="spacingAndGlyphs">.com/</text>
</svg></body></html>
